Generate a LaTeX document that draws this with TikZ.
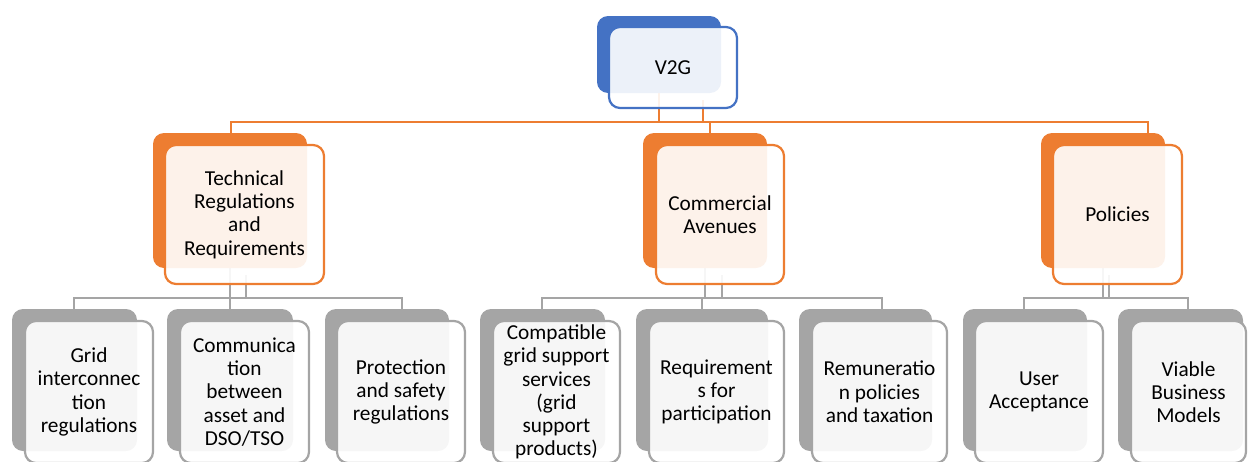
\documentclass[tikz,border=0pt]{standalone}
\usepackage{fontspec}
\setmainfont{Carlito}
\usetikzlibrary{calc}
\definecolor{accOrange}{HTML}{ED7D31}
\definecolor{accBlue}{HTML}{4472C4}
\definecolor{accGrey}{HTML}{A5A5A5}
\pgfdeclarelayer{links}
\pgfsetlayers{links,main}

\tikzset{
  backpanel/.style={fill=#1, rounded corners=11pt, inner sep=0pt},
  frontpanel/.style={draw=#1, line width=2.2pt, fill=white, fill opacity=0.9,
    text opacity=1, rounded corners=11pt, inner sep=0pt, align=center,
    font=\fontsize{21.3}{23.3}\selectfont},
  linkO/.style={draw=accOrange, line width=2.2pt},
  linkG/.style={draw=accGrey, line width=2.8pt},
}

% \panel{name}{style}{x1}{y1}{x2}{y2} -- a rectangle node spanning the two corners
\newcommand\panel[6]{%
  \pgfmathsetmacro\pw{#5-#3}\pgfmathsetmacro\ph{#6-#4}%
  \pgfmathsetmacro\pcx{(#3+#5)/2}\pgfmathsetmacro\pcy{(#4+#6)/2}%
  \node[#2, minimum width=\pw pt, minimum height=\ph pt] (#1) at (\pcx,\pcy)}

\begin{document}
\begin{tikzpicture}[x=1pt, y=-1pt]
\useasboundingbox (0,0) rectangle (1248,461);

% top level
\panel{v2g-b}{backpanel=accBlue}{597}{16}{721}{93} {};
\panel{v2g-f}{frontpanel=accBlue}{609}{27}{737}{108} {V2G};

% second level
\panel{tech-b}{backpanel=accOrange}{153}{133}{307}{268} {};
\panel{tech-f}{frontpanel=accOrange}{165}{145}{324}{284} {Technical\\Regulations\\and\\Requirements};
\panel{comm-b}{backpanel=accOrange}{643}{133}{767}{268} {};
\panel{comm-f}{frontpanel=accOrange}{656}{145}{784}{284} {Commercial\\Avenues};
\panel{pol-b}{backpanel=accOrange}{1041}{133}{1165}{268} {};
\panel{pol-f}{frontpanel=accOrange}{1053}{145}{1182}{284} {Policies};

% third level
\panel{grid-b}{backpanel=accGrey}{12}{309}{137}{451} {};
\panel{grid-f}{frontpanel=accGrey}{25}{321}{153}{463} {Grid\\interconnec\\tion\\regulations};
\panel{dso-b}{backpanel=accGrey}{167}{309}{293}{451} {};
\panel{dso-f}{frontpanel=accGrey}{180}{321}{309}{463} {Communica\\tion\\between\\asset and\\DSO/TSO};
\panel{prot-b}{backpanel=accGrey}{325}{309}{449}{451} {};
\panel{prot-f}{frontpanel=accGrey}{337}{321}{465}{463} {Protection\\and safety\\regulations};
\panel{gss-b}{backpanel=accGrey}{480}{309}{605}{451} {};
\panel{gss-f}{frontpanel=accGrey}{493}{321}{620}{463} {Compatible\\grid support\\services\\(grid\\support\\products)};
\panel{req-b}{backpanel=accGrey}{636}{309}{768}{451} {};
\panel{req-f}{frontpanel=accGrey}{649}{321}{784}{463} {Requirement\\s for\\participation};
\panel{rem-b}{backpanel=accGrey}{799}{309}{932}{451} {};
\panel{rem-f}{frontpanel=accGrey}{812}{321}{947}{463} {Remuneratio\\n policies\\and taxation};
\panel{user-b}{backpanel=accGrey}{963}{309}{1087}{451} {};
\panel{user-f}{frontpanel=accGrey}{975}{321}{1103}{463} {User\\Acceptance};
\panel{biz-b}{backpanel=accGrey}{1118}{309}{1243}{451} {};
\panel{biz-f}{frontpanel=accGrey}{1131}{321}{1246}{463} {Viable\\Business\\Models};

% connectors, drawn underneath the panels
\begin{pgfonlayer}{links}
  % V2G to second level
  \coordinate (busO) at (0,122);
  \coordinate (v2g-tap) at (703,100);
  \coordinate (tech-in) at (231,133);
  \coordinate (comm-in) at (710,133);
  \coordinate (pol-in) at (1148,133);
  \draw[linkO] (v2g-b.south) -- (v2g-b.south |- busO) -| (tech-in);
  \draw[linkO] (v2g-b.south |- busO) -| (comm-in);
  \draw[linkO] (v2g-b.south |- busO) -| (pol-in);
  \draw[linkO] (v2g-tap) -- (v2g-tap |- busO);

  % technical branch
  \coordinate (busT) at (0,298);
  \coordinate (tech-tap) at (246,275);
  \coordinate (grid-in) at (74,309);
  \coordinate (dso-in) at (230,309);
  \coordinate (prot-in) at (402,309);
  \draw[linkG] (tech-b.south) -- (dso-in);
  \draw[linkG] (tech-b.south |- busT) -| (grid-in);
  \draw[linkG] (tech-b.south |- busT) -| (prot-in);
  \draw[linkG] (tech-tap) -- (tech-tap |- busT);

  % commercial branch
  \coordinate (busC) at (0,298);
  \coordinate (comm-tap) at (722,275);
  \coordinate (gss-in) at (542,309);
  \coordinate (req-in) at (702,309);
  \coordinate (rem-in) at (882,309);
  \draw[linkG] (comm-b.south) -- (comm-b.south |- busC);
  \draw[linkG] (comm-b.south |- busC) -| (gss-in);
  \draw[linkG] (comm-b.south |- busC) -| (req-in);
  \draw[linkG] (comm-b.south |- busC) -| (rem-in);
  \draw[linkG] (comm-tap) -- (comm-tap |- busC);

  % policies branch
  \coordinate (busP) at (0,298);
  \coordinate (pol-tap) at (1109,275);
  \coordinate (user-in) at (1024,309);
  \coordinate (biz-in) at (1188,309);
  \draw[linkG] (pol-b.south) -- (pol-b.south |- busP);
  \draw[linkG] (pol-b.south |- busP) -| (user-in);
  \draw[linkG] (pol-b.south |- busP) -| (biz-in);
  \draw[linkG] (pol-tap) -- (pol-tap |- busP);
\end{pgfonlayer}
\end{tikzpicture}
\end{document}
